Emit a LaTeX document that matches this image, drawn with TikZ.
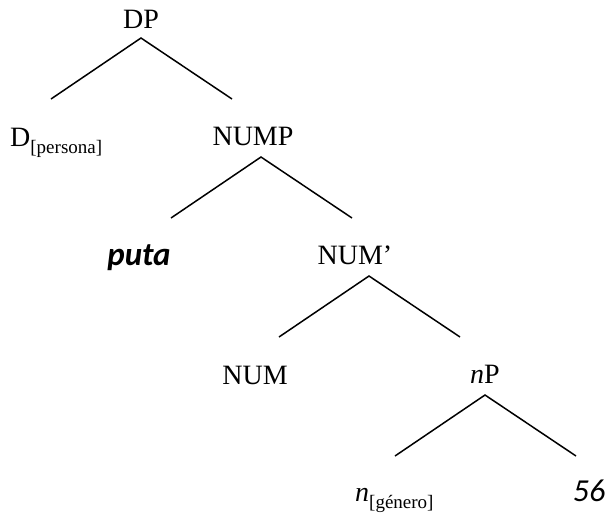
\documentclass[tikz,border=0pt]{standalone}
\usepackage{fontspec}
\setmainfont{Liberation Serif}
\newfontfamily\calfont{Carlito}

\begin{document}
\begin{tikzpicture}[x=1pt, y=-1pt,
    lbl/.style={anchor=base, inner sep=0pt, font=\fontsize{28}{32}\selectfont},
    branch/.style={line width=1.5pt}]
\useasboundingbox (0,0) rectangle (610,512);

% labels
\node[lbl] (DP) at (141,28) {DP};
\node[lbl, anchor=base west] (Dpers) at (10,146) {D\raisebox{-7pt}{\fontsize{19}{21}\selectfont[persona]}};
\node[lbl] (NUMP) at (253,145) {NUMP};
\node[lbl] (puta) at (139,265) {\fontsize{33}{36}\calfont\bfseries\itshape puta};
\node[lbl] (NUMbar) at (355,264) {NUM'};
\node[lbl] (NUM) at (255,384) {NUM};
\node[lbl] (nP) at (485,383) {\textit{n}P};
\node[lbl, anchor=base west] (ngen) at (355,501) {\textit{n}\raisebox{-7pt}{\fontsize{19}{21}\selectfont[género]}};
\node[lbl] (num56) at (589,501) {\fontsize{32}{36}\calfont\itshape 56};

% branch points
\coordinate (DP-top) at (141,38);
\coordinate (DP-l) at (51,99);
\coordinate (DP-r) at (232,99);
\coordinate (NUMP-top) at (261,157);
\coordinate (NUMP-l) at (171,218);
\coordinate (NUMP-r) at (352,218);
\coordinate (NUMbar-top) at (369,276);
\coordinate (NUMbar-l) at (279,337);
\coordinate (NUMbar-r) at (460,337);
\coordinate (nP-top) at (485,395);
\coordinate (nP-l) at (395,456);
\coordinate (nP-r) at (576,456);

\draw[branch] (DP-l) -- (DP-top) -- (DP-r);
\draw[branch] (NUMP-l) -- (NUMP-top) -- (NUMP-r);
\draw[branch] (NUMbar-l) -- (NUMbar-top) -- (NUMbar-r);
\draw[branch] (nP-l) -- (nP-top) -- (nP-r);

\end{tikzpicture}
\end{document}
